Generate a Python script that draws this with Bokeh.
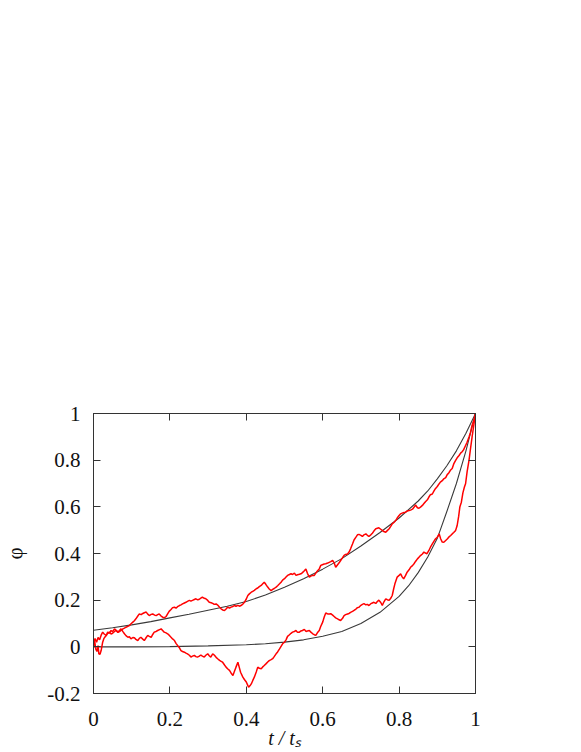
from bokeh.plotting import figure
from bokeh.models import LinearAxis, FixedTicker, Range1d
from bokeh.embed import file_html
from bokeh.resources import INLINE

# ---- data ----
x_ticks = [0, 0.2, 0.4, 0.6, 0.8, 1]
x_tick_labels = ["0", "0.2", "0.4", "0.6", "0.8", "1"]
y_ticks = [-0.2, 0, 0.2, 0.4, 0.6, 0.8, 1]
y_tick_labels = ["-0.2", "0", "0.2", "0.4", "0.6", "0.8", "1"]
x_label = "t / tₛ"
y_label = "φ"

upper_red_t = [0.000, 0.004, 0.008, 0.012, 0.016, 0.020, 0.024, 0.028, 0.033, 0.038, 0.042, 0.046, 0.050, 0.055, 0.059,
               0.064, 0.068, 0.073, 0.077, 0.081, 0.085, 0.090, 0.094, 0.099, 0.103, 0.107, 0.111, 0.116, 0.120, 0.125,
               0.129, 0.133, 0.138, 0.142, 0.146, 0.151, 0.155, 0.160, 0.164, 0.168, 0.172, 0.177, 0.181, 0.186, 0.190,
               0.194, 0.198, 0.203, 0.207, 0.212, 0.216, 0.220, 0.225, 0.229, 0.233, 0.238, 0.242, 0.246, 0.251, 0.255,
               0.259, 0.264, 0.268, 0.273, 0.277, 0.281, 0.285, 0.290, 0.294, 0.299, 0.303, 0.308, 0.312, 0.316, 0.321,
               0.325, 0.330, 0.334, 0.338, 0.343, 0.347, 0.351, 0.356, 0.360, 0.365, 0.369, 0.373, 0.378, 0.382, 0.386,
               0.391, 0.395, 0.400, 0.404, 0.408, 0.413, 0.417, 0.421, 0.426, 0.430, 0.434, 0.439, 0.443, 0.447, 0.451,
               0.456, 0.460, 0.465, 0.469, 0.473, 0.478, 0.482, 0.487, 0.491, 0.495, 0.500, 0.504, 0.508, 0.513, 0.517,
               0.521, 0.526, 0.530, 0.534, 0.539, 0.543, 0.547, 0.552, 0.556, 0.560, 0.565, 0.569, 0.573, 0.578, 0.582,
               0.586, 0.591, 0.595, 0.599, 0.604, 0.608, 0.613, 0.617, 0.621, 0.626, 0.630, 0.634, 0.639, 0.643, 0.647,
               0.652, 0.656, 0.660, 0.665, 0.669, 0.673, 0.678, 0.682, 0.687, 0.691, 0.695, 0.700, 0.704, 0.708, 0.713,
               0.717, 0.721, 0.726, 0.730, 0.734, 0.739, 0.743, 0.747, 0.752, 0.756, 0.760, 0.765, 0.769, 0.774, 0.778,
               0.782, 0.787, 0.791, 0.795, 0.800, 0.804, 0.808, 0.813, 0.817, 0.821, 0.826, 0.830, 0.835, 0.839, 0.843,
               0.848, 0.852, 0.856, 0.861, 0.865, 0.869, 0.874, 0.878, 0.882, 0.887, 0.891, 0.895, 0.900, 0.904, 0.908,
               0.913, 0.917, 0.922, 0.926, 0.930, 0.935, 0.939, 0.943, 0.948, 0.952, 0.957, 0.961, 0.965, 0.969, 0.974,
               0.978, 0.983, 0.987, 0.991, 0.996, 1.000]
upper_red_phi = [0.020, 0.035, 0.020, 0.040, 0.030, 0.050, 0.063, 0.055, 0.049, 0.060, 0.063, 0.055, 0.058, 0.066, 0.070,
                 0.062, 0.065, 0.072, 0.077, 0.080, 0.084, 0.088, 0.091, 0.100, 0.106, 0.112, 0.120, 0.132, 0.141, 0.138,
                 0.143, 0.146, 0.149, 0.140, 0.134, 0.139, 0.141, 0.136, 0.134, 0.138, 0.141, 0.132, 0.127, 0.125, 0.130,
                 0.141, 0.152, 0.160, 0.168, 0.170, 0.166, 0.172, 0.177, 0.180, 0.184, 0.188, 0.191, 0.195, 0.199, 0.196,
                 0.199, 0.203, 0.206, 0.201, 0.204, 0.209, 0.213, 0.208, 0.206, 0.199, 0.191, 0.189, 0.186, 0.182, 0.184,
                 0.179, 0.170, 0.163, 0.158, 0.156, 0.162, 0.170, 0.166, 0.170, 0.173, 0.177, 0.174, 0.178, 0.174, 0.177,
                 0.183, 0.191, 0.205, 0.220, 0.227, 0.234, 0.238, 0.242, 0.249, 0.252, 0.258, 0.263, 0.270, 0.277, 0.268,
                 0.256, 0.248, 0.241, 0.246, 0.250, 0.256, 0.262, 0.270, 0.277, 0.286, 0.292, 0.299, 0.306, 0.310, 0.313,
                 0.310, 0.316, 0.306, 0.309, 0.311, 0.313, 0.318, 0.326, 0.334, 0.315, 0.299, 0.303, 0.306, 0.306, 0.316,
                 0.325, 0.334, 0.349, 0.352, 0.355, 0.356, 0.359, 0.362, 0.365, 0.370, 0.360, 0.341, 0.352, 0.360, 0.370,
                 0.382, 0.392, 0.396, 0.398, 0.406, 0.420, 0.441, 0.458, 0.470, 0.480, 0.482, 0.478, 0.473, 0.480, 0.484,
                 0.478, 0.473, 0.480, 0.487, 0.496, 0.506, 0.508, 0.510, 0.504, 0.499, 0.494, 0.491, 0.498, 0.506, 0.516,
                 0.527, 0.534, 0.541, 0.552, 0.563, 0.570, 0.573, 0.576, 0.577, 0.582, 0.584, 0.586, 0.590, 0.598, 0.608,
                 0.596, 0.594, 0.599, 0.606, 0.614, 0.622, 0.630, 0.642, 0.652, 0.655, 0.667, 0.678, 0.687, 0.697, 0.706,
                 0.712, 0.720, 0.725, 0.738, 0.745, 0.758, 0.764, 0.784, 0.799, 0.810, 0.820, 0.830, 0.836, 0.845, 0.863,
                 0.877, 0.899, 0.920, 0.949, 0.972, 1.000]

lower_red_t = [0.000, 0.003, 0.006, 0.009, 0.012, 0.014, 0.017, 0.020, 0.024, 0.027, 0.030, 0.034, 0.037, 0.041, 0.046,
               0.050, 0.055, 0.060, 0.064, 0.068, 0.072, 0.077, 0.081, 0.085, 0.090, 0.094, 0.098, 0.103, 0.107, 0.111,
               0.116, 0.120, 0.124, 0.129, 0.133, 0.138, 0.142, 0.146, 0.151, 0.155, 0.159, 0.164, 0.168, 0.173, 0.177,
               0.181, 0.185, 0.190, 0.194, 0.198, 0.203, 0.207, 0.212, 0.216, 0.220, 0.225, 0.229, 0.233, 0.238, 0.242,
               0.246, 0.251, 0.255, 0.259, 0.264, 0.268, 0.272, 0.277, 0.281, 0.285, 0.290, 0.294, 0.299, 0.303, 0.307,
               0.312, 0.316, 0.321, 0.325, 0.330, 0.334, 0.338, 0.343, 0.347, 0.351, 0.356, 0.360, 0.365, 0.369, 0.373,
               0.378, 0.382, 0.385, 0.391, 0.395, 0.400, 0.403, 0.406, 0.410, 0.413, 0.417, 0.421, 0.426, 0.430, 0.434,
               0.439, 0.443, 0.447, 0.452, 0.456, 0.460, 0.465, 0.469, 0.473, 0.478, 0.482, 0.487, 0.491, 0.495, 0.500,
               0.504, 0.508, 0.513, 0.517, 0.521, 0.526, 0.530, 0.534, 0.539, 0.543, 0.547, 0.552, 0.556, 0.560, 0.565,
               0.569, 0.574, 0.578, 0.582, 0.586, 0.591, 0.595, 0.600, 0.604, 0.608, 0.613, 0.617, 0.621, 0.626, 0.630,
               0.634, 0.639, 0.643, 0.647, 0.652, 0.656, 0.660, 0.665, 0.669, 0.673, 0.678, 0.682, 0.687, 0.691, 0.695,
               0.700, 0.704, 0.708, 0.713, 0.717, 0.721, 0.726, 0.730, 0.734, 0.739, 0.743, 0.747, 0.752, 0.756, 0.760,
               0.765, 0.769, 0.774, 0.778, 0.782, 0.786, 0.789, 0.795, 0.800, 0.804, 0.808, 0.812, 0.817, 0.821, 0.826,
               0.830, 0.835, 0.839, 0.843, 0.848, 0.852, 0.856, 0.861, 0.865, 0.869, 0.873, 0.878, 0.882, 0.887, 0.891,
               0.895, 0.900, 0.905, 0.909, 0.913, 0.917, 0.922, 0.926, 0.930, 0.935, 0.939, 0.943, 0.948, 0.952, 0.956,
               0.959, 0.963, 0.967, 0.971, 0.974, 0.978, 0.983, 0.987, 0.991, 0.996, 1.000]
lower_red_phi = [0.000, 0.025, -0.010, -0.020, 0.005, -0.030, -0.032, -0.016, 0.020, 0.035, 0.042, 0.050, 0.063, 0.058, 0.070,
                 0.065, 0.077, 0.070, 0.063, 0.070, 0.077, 0.065, 0.056, 0.048, 0.041, 0.043, 0.034, 0.040, 0.039, 0.032,
                 0.027, 0.036, 0.041, 0.033, 0.027, 0.040, 0.049, 0.045, 0.041, 0.053, 0.063, 0.066, 0.070, 0.074, 0.077,
                 0.070, 0.063, 0.060, 0.056, 0.050, 0.041, 0.034, 0.027, 0.015, 0.006, -0.004, -0.016, -0.020, -0.023, -0.027,
                 -0.030, -0.036, -0.044, -0.040, -0.037, -0.042, -0.044, -0.040, -0.035, -0.040, -0.044, -0.036, -0.030, -0.038, -0.044,
                 -0.030, -0.035, -0.045, -0.051, -0.058, -0.062, -0.066, -0.078, -0.087, -0.094, -0.101, -0.112, -0.123, -0.105, -0.087,
                 -0.066, -0.090, -0.109, -0.130, -0.140, -0.151, -0.162, -0.173, -0.166, -0.159, -0.144, -0.130, -0.108, -0.087, -0.092,
                 -0.094, -0.086, -0.080, -0.072, -0.065, -0.059, -0.055, -0.051, -0.042, -0.030, -0.022, -0.009, 0.002, 0.013, 0.020,
                 0.030, 0.045, 0.052, 0.058, 0.063, 0.066, 0.070, 0.062, 0.063, 0.068, 0.070, 0.075, 0.066, 0.068, 0.070,
                 0.063, 0.056, 0.052, 0.049, 0.060, 0.070, 0.088, 0.106, 0.128, 0.145, 0.141, 0.141, 0.142, 0.136, 0.130,
                 0.124, 0.120, 0.116, 0.113, 0.122, 0.134, 0.138, 0.141, 0.143, 0.148, 0.152, 0.156, 0.162, 0.168, 0.170,
                 0.178, 0.182, 0.185, 0.180, 0.182, 0.177, 0.185, 0.188, 0.191, 0.186, 0.194, 0.200, 0.190, 0.177, 0.192,
                 0.206, 0.202, 0.199, 0.208, 0.220, 0.250, 0.270, 0.299, 0.306, 0.313, 0.300, 0.291, 0.306, 0.320, 0.330,
                 0.341, 0.348, 0.356, 0.366, 0.377, 0.384, 0.391, 0.398, 0.406, 0.402, 0.399, 0.413, 0.427, 0.441, 0.452,
                 0.462, 0.470, 0.484, 0.462, 0.449, 0.448, 0.456, 0.462, 0.470, 0.477, 0.484, 0.490, 0.499, 0.520, 0.560,
                 0.599, 0.620, 0.660, 0.685, 0.699, 0.750, 0.799, 0.850, 0.899, 0.955, 1.000]

upper_fit_t = [0.0, 0.05, 0.10, 0.15, 0.20, 0.25, 0.30, 0.35, 0.40, 0.45, 0.50, 0.55, 0.60, 0.65, 0.70, 0.75,
               0.80, 0.85, 0.875, 0.90, 0.925, 0.95, 0.975, 1.0]
upper_fit_phi = [0.071, 0.082, 0.094, 0.108, 0.124, 0.140, 0.157, 0.174, 0.194, 0.222, 0.255, 0.292, 0.333, 0.378,
                 0.432, 0.490, 0.552, 0.625, 0.668, 0.720, 0.776, 0.840, 0.915, 1.0]

lower_fit_t = [0.0, 0.10, 0.20, 0.30, 0.40, 0.45, 0.50, 0.55, 0.60, 0.65, 0.70, 0.75, 0.80, 0.825, 0.85, 0.875,
               0.90, 0.925, 0.95, 0.975, 1.0]
lower_fit_phi = [0.0, 0.0, 0.001, 0.004, 0.009, 0.013, 0.020, 0.030, 0.045, 0.066, 0.100, 0.148, 0.216, 0.262, 0.318,
                 0.385, 0.465, 0.580, 0.700, 0.840, 1.0]

SERIF = "Liberation Serif"
FRAME = "#333333"
TEXT = "#111111"

p = figure(width=581, height=752, output_backend="svg", toolbar_location=None,
           x_range=Range1d(0, 1), y_range=Range1d(-0.2, 1),
           min_border_left=92, min_border_right=106, min_border_top=413, min_border_bottom=59,
           x_axis_location=None, y_axis_location=None)
p.grid.visible = False
p.outline_line_color = FRAME
p.outline_line_width = 1
p.background_fill_color = "white"
p.border_fill_color = "white"


def style_axis(ax, ticks, labels, show_labels):
    ax.ticker = FixedTicker(ticks=ticks)
    ax.major_tick_in = 7
    ax.major_tick_out = 0
    ax.minor_tick_line_color = None
    ax.axis_line_color = FRAME
    ax.major_tick_line_color = FRAME
    if show_labels:
        ax.major_label_overrides = {t: s for t, s in zip(ticks, labels)}
        ax.major_label_text_font = SERIF
        ax.major_label_text_font_size = "21px"
        ax.major_label_text_color = TEXT
    else:
        ax.major_label_overrides = {t: "" for t in ticks}
        ax.major_label_text_color = None
        ax.major_label_text_font_size = "0px"


xb = LinearAxis(axis_label=x_label)
style_axis(xb, x_ticks, x_tick_labels, True)
xb.major_label_standoff = 18
xb.axis_label_text_font = SERIF
xb.axis_label_text_font_style = "italic"
xb.axis_label_text_font_size = "20px"
xb.axis_label_text_color = TEXT
xb.axis_label_standoff = -2
p.add_layout(xb, "below")

xa = LinearAxis()
style_axis(xa, x_ticks, x_tick_labels, False)
p.add_layout(xa, "above")

yl = LinearAxis(axis_label=y_label)
style_axis(yl, y_ticks, y_tick_labels, True)
yl.major_label_standoff = 13
yl.axis_label_text_font = SERIF
yl.axis_label_text_font_style = "normal"
yl.axis_label_text_font_size = "21px"
yl.axis_label_text_color = TEXT
yl.axis_label_standoff = 17
p.add_layout(yl, "left")

yr = LinearAxis()
style_axis(yr, y_ticks, y_tick_labels, False)
p.add_layout(yr, "right")

p.line(upper_fit_t, upper_fit_phi, line_color="#3a3a3a", line_width=1.1)
p.line(lower_fit_t, lower_fit_phi, line_color="#3a3a3a", line_width=1.1)
p.line(upper_red_t, upper_red_phi, line_color="#ff0000", line_width=1.5)
p.line(lower_red_t, lower_red_phi, line_color="#ff0000", line_width=1.5)

open("out.html", "w").write(file_html(p, INLINE))
